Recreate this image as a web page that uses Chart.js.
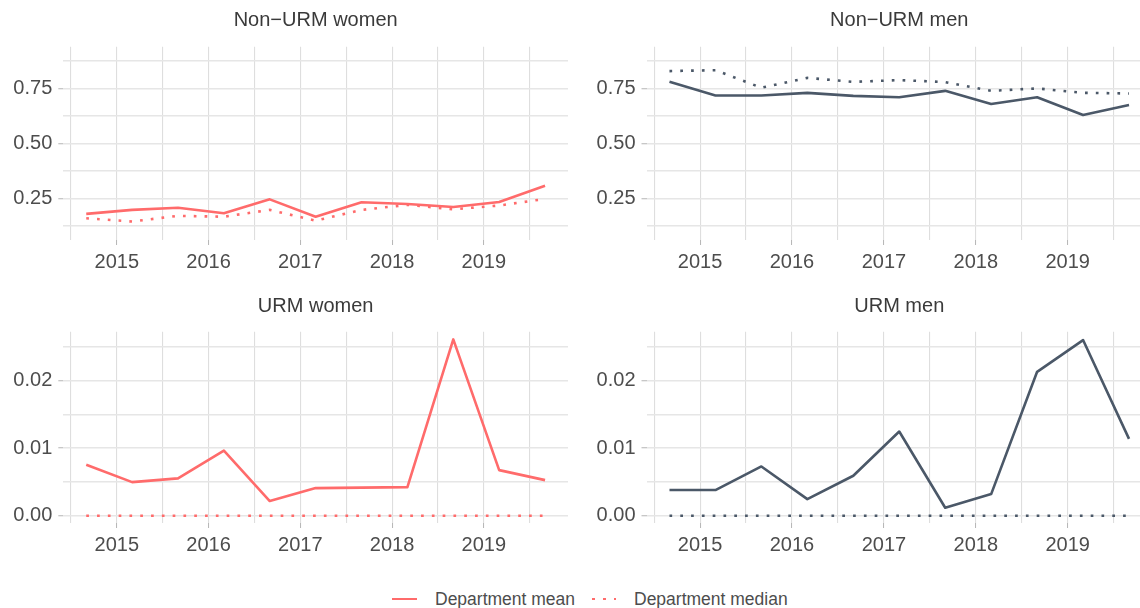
<!DOCTYPE html>
<html>
<head>
<meta charset="utf-8">
<script src="https://cdn.jsdelivr.net/npm/chart.js@4.4.0/dist/chart.umd.min.js"></script>
<style>
html,body{margin:0;padding:0;background:#fff;width:1140px;height:608px;overflow:hidden;position:relative;}
canvas.p{position:absolute;}
.lg{position:absolute;font-family:"Liberation Sans",Arial,sans-serif;font-size:17.5px;color:#4d4d4d;line-height:20px;white-space:nowrap;}
.sw{position:absolute;height:2.6px;}
</style>
</head>
<body>
<canvas id="c1" class="p" width="570" height="290" style="left:0px;top:0px;width:570px;height:290px"></canvas>
<canvas id="c2" class="p" width="582" height="290" style="left:570px;top:0px;width:582px;height:290px"></canvas>
<canvas id="c3" class="p" width="570" height="288" style="left:0px;top:285px;width:570px;height:288px"></canvas>
<canvas id="c4" class="p" width="582" height="288" style="left:570px;top:285px;width:582px;height:288px"></canvas>

<div class="sw" style="left:392px;top:597.7px;width:25px;background:#FF6B6B"></div>
<div class="lg" style="left:435px;top:589px">Department mean</div>
<div class="sw" style="left:592px;top:597.7px;width:25px;background:repeating-linear-gradient(to right,#FF6B6B 0px,#FF6B6B 2.7px,transparent 2.7px,transparent 10.8px)"></div>
<div class="lg" style="left:634px;top:589px">Department median</div>

<script>
// ---- data ----
const termPositions = [2014.667, 2015.167, 2015.667, 2016.167, 2016.667, 2017.167, 2017.667, 2018.167, 2018.667, 2019.167, 2019.667];

const nonUrmWomenMean   = [0.179, 0.197, 0.207, 0.182, 0.245, 0.166, 0.232, 0.224, 0.210, 0.233, 0.307];
const nonUrmWomenMedian = [0.159, 0.144, 0.170, 0.166, 0.197, 0.148, 0.197, 0.220, 0.200, 0.217, 0.247];
const nonUrmMenMean     = [0.780, 0.718, 0.718, 0.730, 0.716, 0.710, 0.739, 0.679, 0.710, 0.629, 0.675];
const nonUrmMenMedian   = [0.829, 0.833, 0.753, 0.798, 0.780, 0.788, 0.779, 0.739, 0.750, 0.730, 0.727];
const urmWomenMean      = [0.00753, 0.00497, 0.00552, 0.00965, 0.00217, 0.00409, 0.00415, 0.00423, 0.0261, 0.00675, 0.00527];
const urmWomenMedian    = [0, 0, 0, 0, 0, 0, 0, 0, 0, 0, 0];
const urmMenMean        = [0.0038, 0.0038, 0.00729, 0.00246, 0.00591, 0.01246, 0.00118, 0.0032, 0.0213, 0.0260, 0.01137];
const urmMenMedian      = [0, 0, 0, 0, 0, 0, 0, 0, 0, 0, 0];

const xGridValues  = [2014.5, 2015, 2015.5, 2016, 2016.5, 2017, 2017.5, 2018, 2018.5, 2019, 2019.5];
const xTickLabels  = [2015, 2016, 2017, 2018, 2019];
const topGridValues = [0.125, 0.25, 0.375, 0.5, 0.625, 0.75, 0.875];
const topTickLabels = [0.25, 0.5, 0.75];
const bottomGridValues = [0, 0.005, 0.01, 0.015, 0.02, 0.025];
const bottomTickLabels = [0, 0.01, 0.02];

const panelTitles = ['Non\u2212URM women', 'Non\u2212URM men', 'URM women', 'URM men'];
const seriesNames = ['Department mean', 'Department median'];

// ---- styling ----
const WOMEN = '#FF6B6B';
const MEN = '#4B5868';
const FONT = '"Liberation Sans", Arial, sans-serif';

function has(list, v){ return list.some(t => Math.abs(t - v) < 1e-9); }

function makePanel(id, title, mean, median, color, yGrid, yLabels, yMin, yMax, yW, padRight, titlePad){
  const mk = arr => termPositions.map((x, i) => ({x: x, y: arr[i]}));
  new Chart(document.getElementById(id), {
    type: 'line',
    data: {
      datasets: [
        {label: seriesNames[0], data: mk(mean), borderColor: color, borderWidth: 2.6, pointRadius: 0, tension: 0, borderCapStyle: 'butt', borderJoinStyle: 'round'},
        {label: seriesNames[1], data: mk(median), borderColor: color, borderWidth: 2.6, pointRadius: 0, tension: 0, borderDash: [2.7, 8.1], borderCapStyle: 'butt'}
      ]
    },
    options: {
      responsive: false,
      animation: false,
      devicePixelRatio: 1,
      layout: {padding: {left: 0, right: padRight, top: 0, bottom: 0}},
      plugins: {
        legend: {display: false},
        tooltip: {enabled: false},
        title: {display: true, text: title, fullSize: false, color: '#3a3a3a',
                font: {family: FONT, size: 20, weight: 'normal'}, padding: titlePad}
      },
      scales: {
        x: {
          type: 'linear', min: 2014.417, max: 2019.917,
          afterBuildTicks: s => { s.ticks = xGridValues.map(v => ({value: v})); },
          afterFit: s => { s.height = 50; },
          ticks: {autoSkip: false, maxRotation: 0, padding: 5, color: '#4d4d4d',
                  font: {family: FONT, size: 20},
                  callback: v => has(xTickLabels, v) ? String(Math.round(v)) : ''},
          grid: {color: '#DEDEDE', lineWidth: 1.1, tickLength: 5,
                 tickColor: c => has(xTickLabels, c.tick.value) ? '#B5B5B5' : 'rgba(0,0,0,0)', tickWidth: 1},
          border: {display: false}
        },
        y: {
          type: 'linear', min: yMin, max: yMax,
          afterBuildTicks: s => { s.ticks = yGrid.map(v => ({value: v})); },
          afterFit: s => { s.width = yW; },
          ticks: {autoSkip: false, padding: 6, color: '#4d4d4d',
                  font: {family: FONT, size: 20},
                  callback: v => has(yLabels, v) ? v.toFixed(2) : ''},
          grid: {color: '#E6E6E6', lineWidth: 1.5, tickLength: 5,
                 tickColor: c => has(yLabels, c.tick.value) ? '#B5B5B5' : 'rgba(0,0,0,0)', tickWidth: 1},
          border: {display: false}
        }
      }
    }
  });
}

const topPad = {top: 8, bottom: 14.7};
const botPad = {top: 9.7, bottom: 13};
makePanel('c1', panelTitles[0], nonUrmWomenMean, nonUrmWomenMedian, WOMEN, topGridValues, topTickLabels, 0.06, 0.94, 63.3, 2, topPad);
makePanel('c2', panelTitles[1], nonUrmMenMean, nonUrmMenMedian, MEN, topGridValues, topTickLabels, 0.06, 0.94, 76.5, 0, topPad);
makePanel('c3', panelTitles[2], urmWomenMean, urmWomenMedian, WOMEN, bottomGridValues, bottomTickLabels, -0.00108, 0.02724, 63.3, 2, botPad);
makePanel('c4', panelTitles[3], urmMenMean, urmMenMedian, MEN, bottomGridValues, bottomTickLabels, -0.00108, 0.02724, 76.5, 0, botPad);
</script>
</body>
</html>
